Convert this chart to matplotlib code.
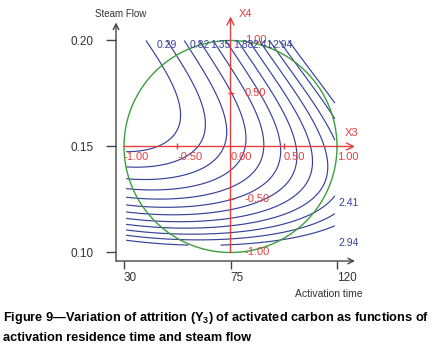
import numpy as np
import matplotlib.pyplot as plt

plt.rcParams['font.family'] = ['Liberation Sans', 'DejaVu Sans']
plt.rcParams['mathtext.fontset'] = 'custom'
plt.rcParams['mathtext.rm'] = 'Liberation Sans'
plt.rcParams['mathtext.bf'] = 'Liberation Sans:bold'

# attrition Y3 = f(X3, X4), cubic model in coded units
# terms: 1, X3, X4, X3^2, X3*X4, X4^2, X3^3, X3^2*X4, X3*X4^2, X4^3
model_coef = [0.6313, 1.2877, -0.4185, 0.5453, 1.1195, 1.7585,
              -0.0632, 0.1282, -0.0314, -0.5161]

# contour levels and the ones that carry a label
levels = [0.025, 0.29, 0.555, 0.82, 1.085, 1.35, 1.615, 1.88, 2.145,
          2.41, 2.675, 2.94]
top_labels = [0.29, 0.82, 1.35, 1.88, 2.41, 2.94]
side_labels = [2.41, 2.94]

# coded -> real units
time_center, time_step = 75, 45
steam_center, steam_step = 0.15, 0.05

x_ticks = [30, 75, 120]
y_ticks = [0.10, 0.15, 0.20]
coded_ticks = [-1.0, -0.5, 0.0, 0.5, 1.0]

blue = '#38429a'
red = '#e2403f'
green = '#3c9e3c'
grey = '#444444'

fig = plt.figure(figsize=(4.33, 3.49), dpi=100)
ax = fig.add_axes([116 / 433, 88 / 349, 242 / 433, 247 / 349])
ax.set_xlim(26.62, 128.87)
ax.set_ylim(0.09599, 0.2125)

# response surface on the coded square
x3 = np.linspace(-0.98, 0.98, 200)
x4 = np.linspace(-0.93, 1.0, 200)
uu, vv = np.meshgrid(x3, x4)
c = model_coef
zz = (c[0] + c[1] * uu + c[2] * vv + c[3] * uu ** 2 + c[4] * uu * vv + c[5] * vv ** 2
      + c[6] * uu ** 3 + c[7] * uu ** 2 * vv + c[8] * uu * vv ** 2 + c[9] * vv ** 3)
tt = time_center + time_step * uu
ss = steam_center + steam_step * vv
ax.contour(tt, ss, zz, levels=levels, colors=blue, linewidths=0.85)

# design circle
th = np.linspace(0, 2 * np.pi, 300)
ax.plot(time_center + time_step * np.cos(th), steam_center + steam_step * np.sin(th),
        color=green, lw=1)

# coded axes X3 / X4
arrow = dict(arrowstyle='->,head_length=0.5,head_width=0.25', color=red, lw=1,
             shrinkA=0, shrinkB=0)
ax.annotate('', xy=(127.6, steam_center), xytext=(30, steam_center), arrowprops=arrow)
ax.annotate('', xy=(time_center, 0.2113), xytext=(time_center, 0.10), arrowprops=arrow,
            annotation_clip=False)
for k in coded_ticks:
    ax.text(time_center + time_step * k, steam_center - 0.0048, f'{k:.2f}', color=red,
            fontsize=8, ha='left', va='center')
    if k != 0:
        ax.text(time_center + 6.1, steam_center + steam_step * k, f'{k:.2f}', color=red,
                fontsize=8, ha='left', va='center')
ax.plot([time_center + time_step * k for k in (-0.5, 0.5)], [steam_center] * 2,
        ls='', marker='|', ms=4, color=red)
ax.plot([time_center] * 2, [steam_center + steam_step * k for k in (-0.5, 0.5)],
        ls='', marker='_', ms=4, color=red)
ax.text(126.0, 0.1566, 'X3', color=red, fontsize=8, ha='center', va='center',
        clip_on=False)
ax.text(81.5, 0.2125, 'X4', color=red, fontsize=8, ha='center', va='center',
        clip_on=False)

# contour labels, along the top edge and at the right ends
top_x = [48.2, 62.1, 70.6, 80.3, 88.7, 97.2]
for lv, x in zip(top_labels, top_x):
    ax.text(x, 0.1978, f'{lv:.2f}', color=blue, fontsize=7.5, ha='center', va='center')
for lv, y in zip(side_labels, [0.1234, 0.1046]):
    ax.text(120.5, y, f'{lv:.2f}', color=blue, fontsize=7.5, ha='left', va='center')

# plain L axes with arrow heads
for side in ('top', 'right', 'left', 'bottom'):
    ax.spines[side].set_visible(False)
ax_arrow = dict(arrowstyle='->,head_length=0.4,head_width=0.2', color=grey, lw=1,
                shrinkA=0, shrinkB=0)
ax.annotate('', xy=(26.62, 0.2085), xytext=(26.62, 0.09599), arrowprops=ax_arrow,
            annotation_clip=False)
ax.annotate('', xy=(127.6, 0.09599), xytext=(26.62, 0.09599), arrowprops=ax_arrow,
            annotation_clip=False)
ax.set_xticks(x_ticks)
ax.set_xticklabels([str(x) for x in x_ticks], ha='left')
ax.set_yticks(y_ticks)
ax.set_yticklabels([f'{y:.2f}' for y in y_ticks])
ax.tick_params(axis='y', length=7, width=1, color=grey, pad=9, labelsize=8.5,
               labelcolor='#333333')
ax.tick_params(axis='x', length=6, width=1, color=grey, pad=2, labelsize=8.5,
               labelcolor='#333333')

fig.text(121 / 433, 1 - 14 / 349, 'Steam Flow', fontsize=7, ha='center', va='center',
         color='#333333')
fig.text(329 / 433, 1 - 294 / 349, 'Activation time', fontsize=7.5, ha='center',
         va='center', color='#333333')

fig.text(3 / 433, 1 - 318 / 349,
         r'Figure 9—Variation of attrition (Y$_\mathbf{3}$) of activated carbon as functions of',
         fontsize=9.2, fontweight='bold', ha='left', va='center')
fig.text(3 / 433, 1 - 338 / 349, 'activation residence time and steam flow',
         fontsize=9.2, fontweight='bold', ha='left', va='center')

fig.savefig('out.png', dpi=100)
